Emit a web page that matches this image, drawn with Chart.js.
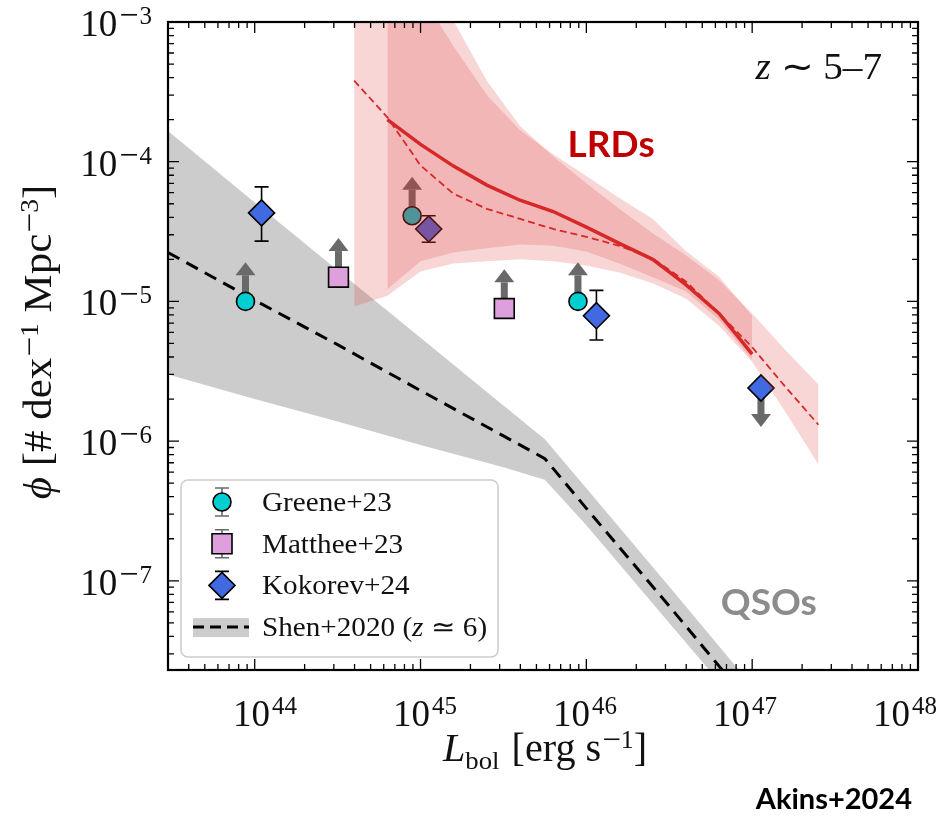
<!DOCTYPE html>
<html>
<head>
<meta charset="utf-8">
<script src="https://cdn.jsdelivr.net/npm/chart.js@4.4.0/dist/chart.umd.min.js"></script>
<style>
  html, body { margin: 0; padding: 0; background: #fff; }
  #lfChart { display: block; }
</style>
</head>
<body>
<canvas id="lfChart" width="942" height="817"></canvas>
<script>
// LRD luminosity function, fiducial model (L_bol in erg/s, phi in dex^-1 Mpc^-3)
const lrdL     = [6.31e44, 1.0e45, 1.58e45, 2.51e45, 3.98e45, 6.31e45, 1.0e46, 1.58e46, 2.51e46, 3.98e46, 6.31e46, 1.0e47];
const lrdPhi   = [2.0e-4, 1.33e-4, 9.3e-5, 6.8e-5, 5.3e-5, 4.4e-5, 3.4e-5, 2.6e-5, 2.0e-5, 1.32e-5, 8.2e-6, 4.2e-6];
const lrdPhiHi = [3.7e-3, 1.6e-3, 6.7e-4, 3.0e-4, 1.68e-4, 1.13e-4, 7.9e-5, 5.5e-5, 3.9e-5, 2.3e-5, 1.5e-5, 7.9e-6];
const lrdPhiLo = [1.22e-5, 1.94e-5, 2.24e-5, 2.4e-5, 2.56e-5, 2.5e-5, 2.28e-5, 1.87e-5, 1.49e-5, 1.18e-5, 7.4e-6, 3.8e-6];

// second LRD model (dashed), wider luminosity range
const altL     = [3.98e44, 6.31e44, 1.0e45, 1.58e45, 2.51e45, 3.98e45, 6.31e45, 1.0e46, 1.58e46, 2.51e46, 3.98e46, 6.31e46, 1.0e47, 1.58e47, 2.51e47];
const altPhi   = [3.8e-4, 2.08e-4, 9.4e-5, 5.9e-5, 4.6e-5, 3.9e-5, 3.3e-5, 2.9e-5, 2.5e-5, 2.03e-5, 1.39e-5, 8.2e-6, 4.7e-6, 2.46e-6, 1.31e-6];
const altPhiHi = [1.2e-2, 5.0e-3, 2.65e-3, 1.02e-3, 3.8e-4, 1.8e-4, 1.09e-4, 7.0e-5, 4.6e-5, 3.07e-5, 2.14e-5, 1.42e-5, 8.2e-6, 4.5e-6, 2.54e-6];
const altPhiLo = [9.2e-6, 1.1e-5, 1.64e-5, 1.87e-5, 1.94e-5, 2.0e-5, 1.94e-5, 1.81e-5, 1.61e-5, 1.35e-5, 1.05e-5, 6.7e-6, 3.7e-6, 1.63e-6, 6.8e-7];

// Shen+2020 quasar luminosity function at z ~ 6
const shenL     = [3.0e43, 1.0e44, 3.16e44, 1.0e45, 3.16e45, 5.62e45, 1.0e46, 3.16e46, 1.0e47];
const shenPhi   = [2.24e-5, 1.02e-5, 4.9e-6, 2.3e-6, 1.09e-6, 7.5e-7, 3.3e-7, 6.6e-8, 1.27e-8];
const shenPhiHi = [1.66e-4, 5.1e-5, 1.67e-5, 5.5e-6, 1.8e-6, 1.03e-6, 4.6e-7, 9.1e-8, 1.77e-8];
const shenPhiLo = [3.0e-6, 2.0e-6, 1.38e-6, 9.4e-7, 6.5e-7, 5.3e-7, 2.5e-7, 5.0e-8, 1.0e-8];

// literature measurements
const greeneL    = [8.8e43, 8.9e44, 8.9e45];          // lower limits
const greenePhi  = [1.0e-5, 4.1e-5, 1.0e-5];
const mattheeL   = [3.2e44, 3.2e45];                  // lower limits
const mattheePhi = [1.49e-5, 8.9e-6];
const kokorevL   = [1.1e44, 1.12e45, 1.15e46, 1.13e47];
const kokorevPhi = [4.3e-5, 3.3e-5, 7.9e-6, 2.4e-6];
const kokorevHi  = [6.6e-5, 4.1e-5, 1.2e-5, null];
const kokorevLo  = [2.7e-5, 2.65e-5, 5.3e-6, null];
const kokorevUpperLimit = [false, false, false, true];

// axis ranges and labelled decades
const X_MIN = 3e43, X_MAX = 1e48;
const Y_MIN = 2.3e-8, Y_MAX = 1e-3;
const xDecades = [44, 45, 46, 47, 48];
const yDecades = [-7, -6, -5, -4, -3];

const SERIF = '"Liberation Serif", "Times New Roman", serif';
const SANS = 'Lato, "Open Sans", sans-serif';
const RED_BAND = 'rgba(220, 50, 50, 0.2)';
const RED_LINE = 'rgb(214, 40, 40)';
const GREY_BAND = 'rgb(204, 204, 204)';
const ARROW_GREY = 'rgb(105, 105, 105)';
const ARROW_DEX = 0.28;
const LABEL_PULL = 0.965;   // x tick labels sit a touch toward the axis centre

const pts = (xs, ys) => xs.map((x, i) => ({ x: x, y: ys[i] }));

function band(xs, hi, lo, color, order) {
    return [
        { data: pts(xs, hi), fill: '+1', backgroundColor: color, borderWidth: 0, pointRadius: 0, order: order, clip: 0 },
        { data: pts(xs, lo), fill: false, borderWidth: 0, pointRadius: 0, order: order, clip: 0 }
    ];
}

function markers(xs, ys, style, radius, color, marks) {
    return {
        data: pts(xs, ys),
        showLine: false,
        pointStyle: style,
        pointRadius: radius,
        pointBackgroundColor: color,
        pointBorderColor: '#000',
        pointBorderWidth: 1.6,
        marks: marks,
        order: 8
    };
}

function drawArrow(ctx, x, y0, y1) {
    const s = Math.sign(y1 - y0), head = 13;
    const base = y1 - s * head;
    ctx.fillStyle = ARROW_GREY;
    ctx.fillRect(x - 3.5, Math.min(y0, base), 7, Math.abs(base - y0));
    ctx.beginPath();
    ctx.moveTo(x - 10, base);
    ctx.lineTo(x + 10, base);
    ctx.lineTo(x, y1);
    ctx.closePath();
    ctx.fill();
}

function errBar(ctx, x, top, bot, color) {
    ctx.strokeStyle = color;
    ctx.lineWidth = 1.6;
    ctx.beginPath();
    ctx.moveTo(x, top); ctx.lineTo(x, bot);
    ctx.moveTo(x - 7, top); ctx.lineTo(x + 7, top);
    ctx.moveTo(x - 7, bot); ctx.lineTo(x + 7, bot);
    ctx.stroke();
}

// error bars and limit arrows sit underneath each marker set
const limitsPlugin = {
    id: 'limits',
    beforeDatasetDraw(chart, args) {
        const ds = chart.data.datasets[args.index];
        if (!ds.marks) return;
        const ctx = chart.ctx, xs = chart.scales.x, ys = chart.scales.y;
        ctx.save();
        ds.data.forEach((p, i) => {
            const m = ds.marks[i];
            const px = xs.getPixelForValue(p.x), py = ys.getPixelForValue(p.y);
            if (m.hi != null) {
                errBar(ctx, px, ys.getPixelForValue(m.hi), ys.getPixelForValue(m.lo), '#000');
            }
            if (m.limit) {
                const dir = m.limit === 'lower' ? 1 : -1;
                drawArrow(ctx, px, py, ys.getPixelForValue(p.y * Math.pow(10, dir * ARROW_DEX)));
            }
        });
        ctx.restore();
    }
};

// text made of pieces with their own size, style and vertical shift;
// sx stretches the run horizontally
function segFont(s) {
    return (s.italic ? 'italic ' : '') + s.size + 'px ' + SERIF;
}

function richWidth(ctx, segs) {
    let w = 0;
    segs.forEach(s => {
        ctx.font = segFont(s);
        w += ctx.measureText(s.t).width + (s.gap || 0);
    });
    return w;
}

function richText(ctx, segs, x, y, align, sx) {
    sx = sx || 1;
    const w = richWidth(ctx, segs) * sx;
    const x0 = align === 'right' ? x - w : align === 'left' ? x : x - w / 2;
    ctx.save();
    ctx.translate(x0, y);
    ctx.scale(sx, 1);
    ctx.textAlign = 'left';
    ctx.textBaseline = 'alphabetic';
    let cx = 0;
    segs.forEach(s => {
        ctx.font = segFont(s);
        ctx.fillText(s.t, cx, s.dy || 0);
        cx += ctx.measureText(s.t).width + (s.gap || 0);
    });
    ctx.restore();
}

function pow10(e) {
    const segs = [{ t: '10', size: 37, gap: 2 }];
    if (e < 0) segs.push({ t: '\u2212', size: 34, dy: -10, gap: 1 });
    segs.push({ t: String(Math.abs(e)), size: 25, dy: -12 });
    return segs;
}

const supMinus = n => [{ t: '\u2212', size: 32, dy: -11 }, { t: String(n), size: 25, dy: -13 }];

function legendMarker(ctx, style, x, y, color) {
    ctx.fillStyle = color;
    ctx.strokeStyle = '#000';
    ctx.lineWidth = 1.6;
    ctx.beginPath();
    if (style === 'circle') ctx.arc(x, y, 9, 0, Math.PI * 2);
    if (style === 'rect') ctx.rect(x - 10, y - 10, 20, 20);
    if (style === 'rectRot') { ctx.moveTo(x - 13, y); ctx.lineTo(x, y - 13); ctx.lineTo(x + 13, y); ctx.lineTo(x, y + 13); ctx.closePath(); }
    ctx.fill();
    ctx.stroke();
}

const legendItems = [
    { label: 'Greene+23', style: 'circle', color: 'rgb(0, 206, 209)', bar: ARROW_GREY },
    { label: 'Matthee+23', style: 'rect', color: 'rgb(221, 160, 221)', bar: ARROW_GREY },
    { label: 'Kokorev+24', style: 'rectRot', color: 'rgb(65, 105, 225)', bar: '#000' },
    { label: 'Shen+2020', style: 'band' }
];

const framePlugin = {
    id: 'frame',
    afterDraw(chart) {
        const { ctx, chartArea: a, scales: { x, y } } = chart;
        ctx.save();

        // inward ticks on all four sides
        ctx.strokeStyle = '#000';
        ctx.lineWidth = 1.3;
        ctx.beginPath();
        for (let d = 43; d <= 48; d++) {
            for (let m = 1; m <= 9; m++) {
                const v = m * Math.pow(10, d);
                if (v < X_MIN * 0.999 || v > X_MAX * 1.001) continue;
                const px = x.getPixelForValue(v), len = m === 1 ? 11 : 6;
                ctx.moveTo(px, a.bottom); ctx.lineTo(px, a.bottom - len);
                ctx.moveTo(px, a.top); ctx.lineTo(px, a.top + len);
            }
        }
        for (let d = -8; d <= -3; d++) {
            for (let m = 1; m <= 9; m++) {
                const v = m * Math.pow(10, d);
                if (v < Y_MIN * 0.999 || v > Y_MAX * 1.001) continue;
                const py = y.getPixelForValue(v), len = m === 1 ? 11 : 6;
                ctx.moveTo(a.left, py); ctx.lineTo(a.left + len, py);
                ctx.moveTo(a.right, py); ctx.lineTo(a.right - len, py);
            }
        }
        ctx.stroke();

        ctx.lineWidth = 2.2;
        ctx.strokeRect(a.left, a.top, a.right - a.left, a.bottom - a.top);

        // tick labels
        ctx.fillStyle = '#111';
        const mid = (a.left + a.right) / 2 + 3;
        xDecades.forEach(e => {
            const px = x.getPixelForValue(Math.pow(10, e));
            richText(ctx, pow10(e), mid + (px - mid) * LABEL_PULL, a.bottom + 56, 'center');
        });
        yDecades.forEach(e => richText(ctx, pow10(e), a.left - 16, y.getPixelForValue(Math.pow(10, e)) + 14, 'right'));

        // axis titles
        richText(ctx, [
            { t: 'L', size: 39, italic: true },
            { t: 'bol', size: 26, dy: 8, gap: 2 },
            { t: ' [erg s', size: 39, gap: 1 },
            ...supMinus(1),
            { t: ']', size: 39 }
        ], (a.left + a.right) / 2 + 2, a.bottom + 91, 'center', 1.03);

        ctx.save();
        ctx.translate(51, (a.top + a.bottom) / 2 - 4);
        ctx.rotate(-Math.PI / 2);
        richText(ctx, [
            { t: '\u03d5', size: 39, italic: true },
            { t: ' [# dex', size: 39, gap: 1 },
            ...supMinus(1),
            { t: ' Mpc', size: 39, gap: 1 },
            ...supMinus(3),
            { t: ']', size: 39 }
        ], 0, 0, 'center', 1.1);
        ctx.restore();

        // redshift tag
        richText(ctx, [{ t: 'z', size: 37, italic: true }, { t: ' \u223c 5\u20137', size: 37 }], a.right - 36, a.top + 57, 'right', 1.06);

        // curve labels
        ctx.textAlign = 'center';
        ctx.textBaseline = 'middle';
        ctx.font = 'bold 37px ' + SANS;
        ctx.fillStyle = 'rgb(192, 0, 0)';
        ctx.fillText('LRDs', x.getPixelForValue(1.41e46), y.getPixelForValue(1.31e-4));
        ctx.fillStyle = 'rgb(140, 140, 140)';
        ctx.fillText('QSOs', x.getPixelForValue(1.26e47), y.getPixelForValue(6.95e-8));
        ctx.fillStyle = '#000';
        ctx.font = 'bold 29px ' + SANS;
        ctx.textAlign = 'right';
        ctx.fillText('Akins+2024', 912, 800);

        // legend box
        const lx = a.left + 13, ly = a.top + 458, lw = 317, lh = 177;
        ctx.beginPath();
        ctx.roundRect(lx, ly, lw, lh, 7);
        ctx.fillStyle = 'rgba(255, 255, 255, 0.85)';
        ctx.fill();
        ctx.strokeStyle = 'rgb(205, 205, 205)';
        ctx.lineWidth = 1.6;
        ctx.stroke();

        legendItems.forEach((it, i) => {
            const cy = ly + 22 + i * 41.7, mx = lx + 41;
            if (it.style === 'band') {
                ctx.fillStyle = GREY_BAND;
                ctx.fillRect(mx - 29, cy - 9, 56, 19);
                ctx.strokeStyle = '#000';
                ctx.lineWidth = 3;
                ctx.setLineDash([11, 6]);
                ctx.beginPath();
                ctx.moveTo(mx - 29, cy); ctx.lineTo(mx + 27, cy);
                ctx.stroke();
                ctx.setLineDash([]);
                ctx.fillStyle = '#111';
                richText(ctx, [
                    { t: 'Shen+2020 (', size: 27 },
                    { t: 'z', size: 27, italic: true },
                    { t: ' \u2243 6)', size: 27 }
                ], lx + 81, cy + 9, 'left', 1.08);
            } else {
                errBar(ctx, mx, cy - 14, cy + 14, it.bar);
                legendMarker(ctx, it.style, mx, cy, it.color);
                ctx.fillStyle = '#111';
                richText(ctx, [{ t: it.label, size: 27 }], lx + 81, cy + 9, 'left', 1.08);
            }
        });

        ctx.restore();
    }
};

const greeneMarks = greeneL.map(() => ({ limit: 'lower' }));
const mattheeMarks = mattheeL.map(() => ({ limit: 'lower' }));
const kokorevMarks = kokorevL.map((l, i) => kokorevUpperLimit[i]
    ? { limit: 'upper' }
    : { hi: kokorevHi[i], lo: kokorevLo[i] });

const datasets = [
    // red model lines and bands, drawn over the points
    { data: pts(altL, altPhi), borderColor: RED_LINE, borderWidth: 1.8, borderDash: [7, 4], pointRadius: 0, fill: false, order: 5 },
    { data: pts(lrdL, lrdPhi), borderColor: RED_LINE, borderWidth: 3.5, pointRadius: 0, fill: false, order: 5 },
    ...band(lrdL, lrdPhiHi, lrdPhiLo, RED_BAND, 6),
    ...band(altL, altPhiHi, altPhiLo, RED_BAND, 7),
    markers(greeneL, greenePhi, 'circle', 9, 'rgb(0, 206, 209)', greeneMarks),
    markers(mattheeL, mattheePhi, 'rect', 14, 'rgb(221, 160, 221)', mattheeMarks),
    markers(kokorevL, kokorevPhi, 'rectRot', 13, 'rgb(65, 105, 225)', kokorevMarks),
    { data: pts(shenL, shenPhi), borderColor: '#000', borderWidth: 3, borderDash: [13, 8], pointRadius: 0, fill: false, order: 9 },
    ...band(shenL, shenPhiHi, shenPhiLo, GREY_BAND, 10)
];

new Chart(document.getElementById('lfChart').getContext('2d'), {
    type: 'line',
    data: { datasets: datasets },
    options: {
        responsive: false,
        animation: false,
        devicePixelRatio: 1,
        layout: { padding: { left: 168, right: 24, top: 22, bottom: 147 } },
        elements: { line: { tension: 0 } },
        plugins: {
            legend: { display: false },
            tooltip: { enabled: false }
        },
        scales: {
            x: { type: 'logarithmic', min: X_MIN, max: X_MAX, display: false },
            y: { type: 'logarithmic', min: Y_MIN, max: Y_MAX, display: false }
        }
    },
    plugins: [limitsPlugin, framePlugin]
});
</script>
</body>
</html>
